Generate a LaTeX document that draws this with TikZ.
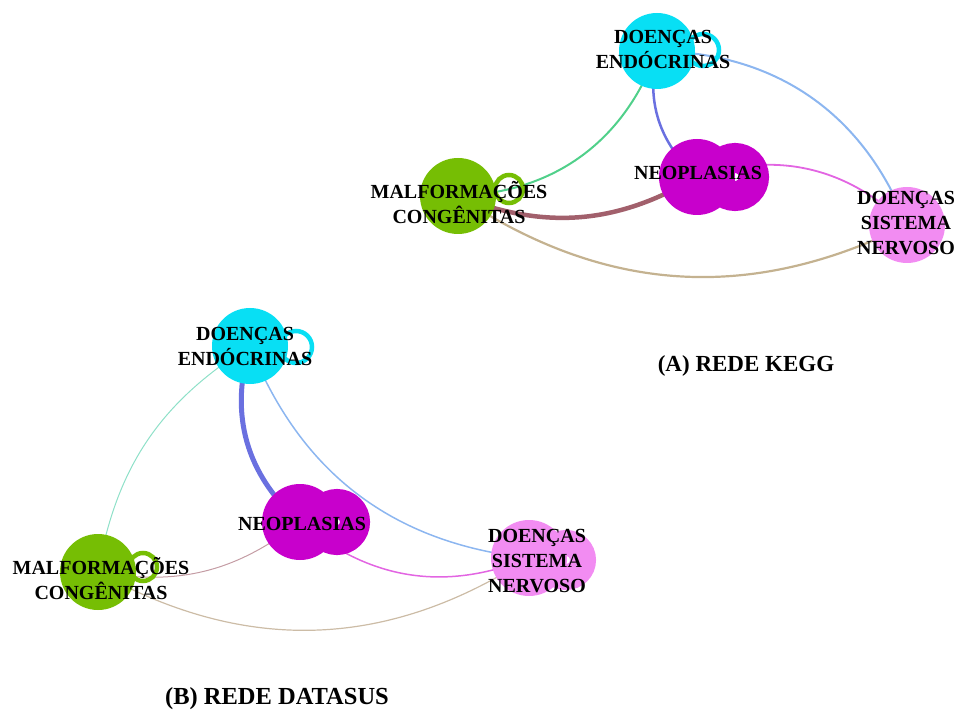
\documentclass[tikz,border=0pt]{standalone}
\usepackage{fontspec}
\setmainfont{Liberation Serif}
\pgfdeclarelayer{edges}
\pgfdeclarelayer{labels}
\pgfsetlayers{edges,main,labels}

% node colours
\definecolor{endo}{HTML}{08DFF4}
\definecolor{neo}{HTML}{C800CC}
\definecolor{malf}{HTML}{76BE04}
\definecolor{sist}{HTML}{F28CF2}
% edge colours
\definecolor{eSist}{HTML}{8CB6F0}
\definecolor{eNeo}{HTML}{6A70E0}
\definecolor{eMalf}{HTML}{50D08A}
\definecolor{eMalfB}{HTML}{8EE0C8}
\definecolor{nMalf}{HTML}{A2606C}
\definecolor{nMalfB}{HTML}{C49CA4}
\definecolor{nSist}{HTML}{E265E2}
\definecolor{mSist}{HTML}{C4B290}
\definecolor{mSistB}{HTML}{CCBCA6}

\begin{document}
\begin{tikzpicture}[x=1pt,y=-1pt,
  vertex/.style={circle, minimum size=76pt, inner sep=0pt, outer sep=0pt},
  thinring/.style={draw, line width=4.5pt},
  fatring/.style={draw, line width=30pt},
  tag/.style={align=center, inner sep=0pt, font=\fontsize{20}{25}\selectfont\bfseries},
  caption/.style={inner sep=0pt, font=\bfseries},
  link/.style={line cap=round}]
\useasboundingbox (0,0) rectangle (956,711);

% ---------- network A: KEGG ----------
\node[vertex, fill=endo] (eA) at (657,51) {};
\node[vertex, fill=neo]  (nA) at (697,177) {};
\node[vertex, fill=malf] (mA) at (458,196) {};
\node[vertex, fill=sist] (sA) at (907,225) {};

\draw[thinring, endo] ([shift={(46,-1)}]eA.center) circle[radius=16];
\draw[fatring, neo]   ([shift={(38,0)}]nA.center) circle[radius=19];
\draw[thinring, malf] ([shift={(51,-7)}]mA.center) circle[radius=14];

\begin{pgfonlayer}{edges}
  \draw[link, eSist, line width=2pt]   (eA.center) to[bend left=34]  (sA.center);
  \draw[link, eNeo,  line width=2.5pt] (eA.center) to[bend right=30] (nA.center);
  \draw[link, eMalf, line width=2pt]   (eA.center) to[bend left=34]  (mA.center);
  \draw[link, nMalf, line width=4.5pt] (nA.center) to[bend left=26]  (mA.center);
  \draw[link, nSist, line width=1.8pt] (nA.center) to[bend left=31]  (sA.center);
  \draw[link, mSist, line width=2.2pt] (mA.center) to[bend right=30] (sA.center);
\end{pgfonlayer}

% ---------- network B: DATASUS ----------
\node[vertex, fill=endo] (eB) at (250,346) {};
\node[vertex, fill=neo]  (nB) at (300,522) {};
\node[vertex, fill=malf] (mB) at (98,572) {};
\node[vertex, fill=sist] (sB) at (529,558) {};

\draw[thinring, endo] ([shift={(46,1)}]eB.center) circle[radius=16];
\draw[fatring, neo]   ([shift={(37,0)}]nB.center) circle[radius=18];
\draw[thinring, malf] ([shift={(45,-5)}]mB.center) circle[radius=14];
\draw[sist, line width=26pt] ([shift={(37,2)}]sB.center) circle[radius=17];

\begin{pgfonlayer}{edges}
  \draw[link, eMalfB, line width=1pt]   (eB.center) to[bend right=24] (mB.center);
  \draw[link, eNeo,   line width=5pt]   (eB.center) to[bend right=33] (nB.center);
  \draw[link, eSist,  line width=1.5pt] (eB.center) to[bend right=31] (sB.center);
  \draw[link, nSist,  line width=1.5pt] (nB.center) to[bend right=31] (sB.center);
  \draw[link, nMalfB, line width=1pt]   (nB.center) to[bend left=24]  (mB.center);
  \draw[link, mSistB, line width=1.2pt] (mB.center) to[bend right=31] (sB.center);
\end{pgfonlayer}

% ---------- labels ----------
\begin{pgfonlayer}{labels}
  \node[tag] (eAlab) at (663,49)  {DOENÇAS\\ENDÓCRINAS};
  \node[tag] (nAlab) at (698,173) {NEOPLASIAS};
  \node[tag] (mAlab) at (459,203) {MALFORMAÇÕES\\CONGÊNITAS};
  \node[tag] (sAlab) at (906,223) {DOENÇAS\\SISTEMA\\NERVOSO};

  \node[tag] (eBlab) at (245,346) {DOENÇAS\\ENDÓCRINAS};
  \node[tag] (nBlab) at (302,524) {NEOPLASIAS};
  \node[tag] (mBlab) at (101,579) {MALFORMAÇÕES\\CONGÊNITAS};
  \node[tag] (sBlab) at (537,561) {DOENÇAS\\SISTEMA\\NERVOSO};

  \node[caption, font=\fontsize{23}{27}\selectfont\bfseries] (capA) at (746,366) {(A) REDE KEGG};
  \node[caption, font=\fontsize{24.5}{28}\selectfont\bfseries] (capB) at (277,699) {(B) REDE DATASUS};
\end{pgfonlayer}
\end{tikzpicture}
\end{document}
